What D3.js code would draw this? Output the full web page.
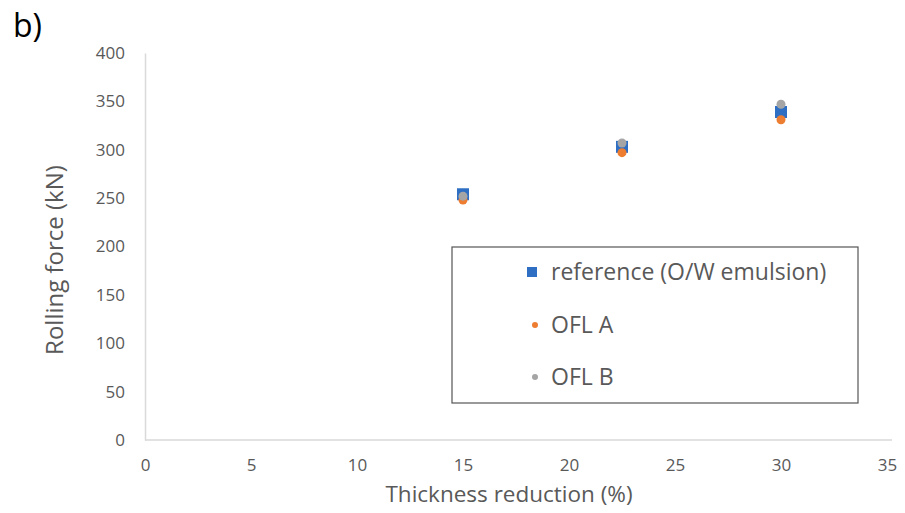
<!DOCTYPE html>
<html>
<head>
<meta charset="utf-8">
<script src="https://cdn.jsdelivr.net/npm/d3@7"></script>
<style>
  html, body { margin: 0; padding: 0; background: #fff; }
  svg { display: block; }
</style>
</head>
<body>
<svg id="chart" width="905" height="513"></svg>
<script>
// ---- data ----
const thickness = [15, 22.5, 30];
const referenceForce = [254, 303, 339];
const oflAForce = [248, 297, 331];
const oflBForce = [252, 307, 347];
const xTicks = [0, 5, 10, 15, 20, 25, 30, 35];
const yTicks = [0, 50, 100, 150, 200, 250, 300, 350, 400];
const seriesNames = ["reference (O/W emulsion)", "OFL A", "OFL B"];

const series = [
  { name: seriesNames[0], values: referenceForce, shape: "square", color: "#2e6fc4" },
  { name: seriesNames[1], values: oflAForce, shape: "circle", color: "#ed7d31" },
  { name: seriesNames[2], values: oflBForce, shape: "circle", color: "#a5a5a5" }
];

const svg = d3.select("#chart");
const x = d3.scaleLinear().domain([0, 35]).range([145, 887]);
const y = d3.scaleLinear().domain([0, 400]).range([440, 53]);
const grey = "#595959";
const font = "'Open Sans', 'Noto Sans', sans-serif";

// panel label
svg.append("text").attr("x", 13).attr("y", 37)
  .attr("font-family", font).attr("font-size", 32).attr("fill", "#000")
  .text("b)");

// axes
const xAxis = svg.append("g").attr("transform", `translate(0,${y(0)})`)
  .call(d3.axisBottom(x).tickValues(xTicks).tickSize(0).tickPadding(19));
xAxis.select(".domain").attr("stroke", "#d9d9d9").attr("stroke-width", 1.5)
  .attr("d", `M${x(0)},0H892`);
xAxis.selectAll("text").attr("font-family", font).attr("font-size", 17).attr("fill", grey);

const yAxis = svg.append("g").attr("transform", `translate(${x(0)},0)`)
  .call(d3.axisLeft(y).tickValues(yTicks).tickSize(0).tickPadding(20));
yAxis.select(".domain").attr("stroke", "#d9d9d9").attr("stroke-width", 1.5);
yAxis.selectAll("text").attr("font-family", font).attr("font-size", 17).attr("fill", grey);

// axis titles
svg.append("text").attr("x", 509).attr("y", 502).attr("text-anchor", "middle")
  .attr("font-family", font).attr("font-size", 22.5).attr("fill", grey)
  .text("Thickness reduction (%)");
svg.append("text").attr("transform", `translate(63,260) rotate(-90)`)
  .attr("text-anchor", "middle")
  .attr("font-family", font).attr("font-size", 24).attr("fill", grey)
  .text("Rolling force (kN)");

// markers
series.forEach(s => {
  const g = svg.append("g");
  const pts = thickness.map((t, i) => ({ t, v: s.values[i] }));
  if (s.shape === "square") {
    g.selectAll("rect").data(pts).join("rect")
      .attr("x", d => x(d.t) - 6).attr("y", d => y(d.v) - 6)
      .attr("width", 12).attr("height", 12).attr("fill", s.color);
  } else {
    g.selectAll("circle").data(pts).join("circle")
      .attr("cx", d => x(d.t)).attr("cy", d => y(d.v)).attr("r", 4.5)
      .attr("fill", s.color);
  }
});

// legend
const lg = svg.append("g");
lg.append("rect").attr("x", 452).attr("y", 247).attr("width", 406).attr("height", 156)
  .attr("fill", "#fff").attr("stroke", "#555").attr("stroke-width", 1.2);
const rowsY = [272, 325, 377];
series.forEach((s, i) => {
  if (s.shape === "square") {
    lg.append("rect").attr("x", 527).attr("y", rowsY[i] - 5).attr("width", 10).attr("height", 10)
      .attr("fill", s.color);
  } else {
    lg.append("circle").attr("cx", 535).attr("cy", rowsY[i]).attr("r", 3).attr("fill", s.color);
  }
  lg.append("text").attr("x", 551).attr("y", rowsY[i]).attr("dy", "0.36em")
    .attr("font-family", font).attr("font-size", 23).attr("fill", grey)
    .text(s.name);
});
</script>
</body>
</html>
